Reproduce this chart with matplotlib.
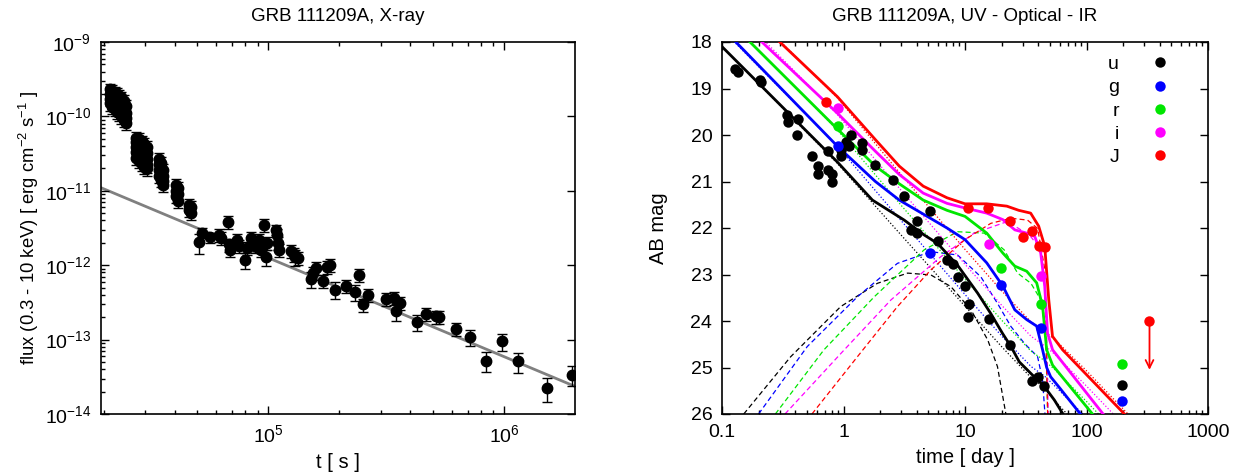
import numpy as np
import matplotlib
matplotlib.use("Agg")
import matplotlib.pyplot as plt
from matplotlib.ticker import FixedLocator, FixedFormatter, NullFormatter

plt.rcParams['font.family'] = ['Liberation Sans', 'DejaVu Sans']
plt.rcParams['mathtext.fontset'] = 'custom'
plt.rcParams['mathtext.rm'] = 'Liberation Sans'
plt.rcParams['mathtext.it'] = 'Liberation Sans:italic'
plt.rcParams['mathtext.default'] = 'regular'

# ---------------- X-ray data (left panel) ----------------
# dense early clusters (time [s], flux [erg cm^-2 s^-1])
xr_clu_t = [2.13e4, 2.13e4, 2.13e4, 2.13e4, 2.18e4, 2.18e4, 2.18e4, 2.18e4,
            2.23e4, 2.23e4, 2.23e4, 2.23e4, 2.28e4, 2.28e4, 2.28e4, 2.28e4,
            2.33e4, 2.33e4, 2.33e4, 2.33e4, 2.38e4, 2.38e4, 2.38e4, 2.38e4,
            2.43e4, 2.43e4, 2.43e4, 2.43e4, 2.48e4, 2.48e4, 2.48e4, 2.48e4,
            2.74e4, 2.74e4, 2.74e4, 2.74e4, 2.74e4, 2.82e4, 2.82e4, 2.82e4, 2.82e4, 2.82e4,
            2.90e4, 2.90e4, 2.90e4, 2.90e4, 2.90e4, 2.98e4, 2.98e4, 2.98e4, 2.98e4, 2.98e4,
            3.06e4, 3.06e4, 3.06e4, 3.06e4, 3.06e4,
            3.42e4, 3.42e4, 3.42e4, 3.42e4, 3.50e4, 3.50e4, 3.50e4, 3.50e4,
            3.56e4, 3.56e4, 3.56e4, 3.56e4,
            4.07e4, 4.07e4, 4.07e4, 4.15e4, 4.15e4, 4.15e4,
            4.62e4, 4.62e4, 4.68e4, 4.68e4]
xr_clu_f = [2.3e-10, 2.0e-10, 1.7e-10, 1.5e-10, 2.2e-10, 1.9e-10, 1.6e-10, 1.35e-10,
            2.1e-10, 1.8e-10, 1.5e-10, 1.25e-10, 2.0e-10, 1.7e-10, 1.4e-10, 1.15e-10,
            1.9e-10, 1.6e-10, 1.3e-10, 1.1e-10, 1.8e-10, 1.5e-10, 1.2e-10, 1.0e-10,
            1.6e-10, 1.3e-10, 1.05e-10, 0.9e-10, 1.4e-10, 1.1e-10, 0.95e-10, 0.82e-10,
            5.2e-11, 4.5e-11, 3.9e-11, 3.3e-11, 2.8e-11, 5.0e-11, 4.2e-11, 3.6e-11, 3.0e-11, 2.5e-11,
            4.6e-11, 3.9e-11, 3.3e-11, 2.7e-11, 2.3e-11, 4.3e-11, 3.6e-11, 3.0e-11, 2.5e-11, 2.1e-11,
            3.9e-11, 3.2e-11, 2.7e-11, 2.2e-11, 2.0e-11,
            2.7e-11, 2.3e-11, 1.9e-11, 1.6e-11, 2.4e-11, 2.0e-11, 1.7e-11, 1.4e-11,
            1.9e-11, 1.6e-11, 1.35e-11, 1.2e-11,
            1.2e-11, 1.0e-11, 8.6e-12, 1.1e-11, 9.0e-12, 7.4e-12,
            6.4e-12, 5.5e-12, 6.0e-12, 5.1e-12]
xr_clu_err = 0.2

# later, separated points
xr_t = [5.1e4, 5.25e4, 5.68e4, 6.2e4, 6.3e4, 6.77e4, 6.8e4, 6.85e4, 7.38e4, 7.5e4,
        7.95e4, 8.1e4, 8.46e4, 8.8e4, 9.1e4, 9.3e4, 9.6e4, 9.8e4, 9.9e4, 1.08e5,
        1.09e5, 1.10e5, 1.11e5, 1.25e5, 1.28e5, 1.30e5, 1.34e5, 1.51e5, 1.55e5, 1.60e5,
        1.71e5, 1.77e5, 1.83e5, 1.92e5, 2.14e5, 2.34e5, 2.43e5, 2.52e5, 2.65e5, 3.16e5,
        3.42e5, 3.49e5, 3.62e5, 4.27e5, 4.65e5, 5.13e5, 5.30e5, 6.27e5, 7.15e5, 8.35e5,
        9.8e5, 1.15e6, 1.52e6, 1.94e6]
xr_f = [2.04e-12, 2.75e-12, 2.37e-12, 2.57e-12, 2.3e-12, 3.8e-12, 1.9e-12, 1.6e-12, 2.2e-12, 1.8e-12,
        1.18e-12, 1.7e-12, 2.3e-12, 1.8e-12, 2.2e-12, 1.6e-12, 3.5e-12, 1.3e-12, 2.0e-12, 3.0e-12,
        2.57e-12, 2.0e-12, 1.6e-12, 1.55e-12, 1.4e-12, 1.3e-12, 1.25e-12, 6.5e-13, 7.9e-13, 9.1e-13,
        6.2e-13, 9.5e-13, 1.0e-12, 4.7e-13, 5.3e-13, 4.4e-13, 7.4e-13, 2.97e-13, 4.0e-13, 3.5e-13,
        3.6e-13, 2.4e-13, 3.1e-13, 1.73e-13, 2.2e-13, 2.05e-13, 2.0e-13, 1.38e-13, 1.08e-13, 5.2e-14,
        9.5e-14, 5.1e-14, 2.24e-14, 3.37e-14]
xr_rel = [0.3, 0.15, 0.15, 0.2, 0.2, 0.2, 0.2, 0.2, 0.2, 0.2,
          0.25, 0.2, 0.2, 0.2, 0.2, 0.2, 0.2, 0.25, 0.2, 0.15,
          0.2, 0.2, 0.2, 0.2, 0.2, 0.25, 0.2, 0.25, 0.2, 0.2,
          0.2, 0.2, 0.2, 0.25, 0.2, 0.25, 0.2, 0.2, 0.2, 0.2,
          0.2, 0.25, 0.2, 0.25, 0.2, 0.2, 0.2, 0.2, 0.25, 0.3,
          0.25, 0.3, 0.35, 0.3]

# power-law fit end points
fit_t = [1.95e4, 2.0e6]
fit_f = [1.10e-11, 2.35e-14]

# tick labels
xr_xticks = [1e5, 1e6]
xr_xlabels = ['$10^{5}$', '$10^{6}$']
xr_yticks = [1e-14, 1e-13, 1e-12, 1e-11, 1e-10, 1e-9]
xr_ylabels = ['$10^{-14}$', '$10^{-13}$', '$10^{-12}$', '$10^{-11}$', '$10^{-10}$', '$10^{-9}$']

# ---------------- UV/optical/IR data (right panel) ----------------
bands = ['u', 'g', 'r', 'i', 'J']
band_colors = ['#000000', '#0000ff', '#00e600', '#ff00ff', '#ff0000']

u_t = [0.128, 0.135, 0.205, 0.208, 0.342, 0.347, 0.42, 0.414, 0.547, 0.621,
       0.612, 0.74, 0.74, 0.81, 0.81, 0.948, 0.96, 1.04, 1.12, 1.16,
       1.41, 1.41, 1.83, 2.57, 3.15, 3.6, 4.04, 4.04, 5.19, 5.98,
       7.1, 7.95, 8.79, 9.93, 10.87, 10.6, 15.7, 23.4, 35.3, 39.8,
       44.6, 197]
u_m = [18.58, 18.65, 18.81, 18.87, 19.56, 19.71, 19.65, 19.99, 20.46, 20.67,
       20.83, 20.35, 20.75, 20.83, 21.02, 20.46, 20.32, 20.14, 20.24, 19.99,
       20.17, 20.32, 20.65, 20.96, 21.32, 22.05, 21.86, 22.11, 21.64, 22.29,
       22.68, 22.77, 23.06, 23.25, 23.63, 23.91, 23.96, 24.51, 25.28, 25.20,
       25.40, 25.37]
g_t = [0.893, 5.19, 19.7, 42.0, 197]
g_m = [20.23, 22.54, 23.22, 24.15, 25.73]
r_t = [0.893, 19.7, 42.0, 197]
r_m = [19.80, 22.85, 23.63, 24.92]
i_t = [0.893, 15.7, 42.0]
i_m = [19.42, 22.34, 23.04]
J_t = [0.723, 10.5, 15.4, 23.4, 30.2, 35.3, 40.5, 45.9]
J_m = [19.29, 21.58, 21.58, 21.86, 22.19, 22.07, 22.39, 22.41]
J_lim_t = 330
J_lim_m = 23.99
J_lim_end = 25.05

# total model (solid)
u_tot_t = [0.1, 0.89, 1.73, 3.16, 4.61, 5.94, 8.68, 12.7, 16.3, 20.4, 23.9, 28.0, 34.9, 45, 54.4, 63.7]
u_tot_m = [18.10, 20.58, 21.40, 21.83, 22.15, 22.33, 22.80, 23.40, 23.84, 24.27, 24.55, 24.88, 25.13, 25.41, 25.70, 25.99]
g_tot_t = [0.13, 0.89, 1.83, 2.88, 4.53, 7.11, 10, 15.1, 20.5, 25.7, 32.2, 38.9, 43.5, 47, 50.7, 58.9, 89]
g_tot_m = [18.0, 20.24, 21.0, 21.4, 21.7, 22.0, 22.25, 22.75, 23.25, 23.76, 23.97, 24.11, 24.62, 25.0, 25.2, 25.41, 26.0]
r_tot_t = [0.17, 0.89, 1.83, 2.88, 4.53, 7.11, 10, 15.1, 20.5, 25.7, 32.2, 38.9, 43.5, 47, 52.6, 112]
r_tot_m = [18.0, 19.87, 20.67, 21.05, 21.40, 21.62, 21.75, 22.11, 22.54, 22.82, 22.93, 23.18, 23.68, 24.62, 24.95, 26.0]
i_tot_t = [0.213, 0.89, 1.83, 2.88, 4.53, 7.11, 10, 15.1, 20.5, 25.7, 32.2, 37.5, 42, 45.3, 47.8, 52.6, 137]
i_tot_m = [18.0, 19.53, 20.35, 20.85, 21.25, 21.47, 21.57, 21.68, 21.82, 22.04, 22.11, 22.18, 22.54, 23.25, 24.26, 24.62, 26.0]
J_tot_t = [0.299, 0.893, 1.83, 2.88, 4.53, 7.11, 10, 15.1, 22.1, 27.7, 34.7, 40.4, 45.3, 48.9, 52.5, 63.6, 205]
J_tot_m = [18.0, 19.18, 20.1, 20.67, 21.1, 21.35, 21.48, 21.48, 21.53, 21.62, 21.68, 21.96, 22.39, 23.54, 24.33, 24.62, 26.0]

# afterglow component (dotted)
ag_t = [0.1, 0.89, 3.0, 10, 20, 35, 45, 55, 100, 300]
u_ag_m = [18.10, 20.61, 22.16, 23.68, 24.55, 25.22, 25.45, 25.72, 26.45, 27.75]
g_ag_m = [17.73, 20.24, 21.85, 23.43, 24.32, 24.98, 25.18, 25.40, 26.08, 27.38]
r_ag_m = [17.38, 19.89, 21.52, 23.10, 23.98, 24.65, 24.85, 25.05, 25.73, 27.03]
i_ag_m = [17.05, 19.56, 21.20, 22.78, 23.66, 24.33, 24.53, 24.72, 25.40, 26.70]
J_ag_m = [16.75, 19.20, 20.86, 22.46, 23.35, 24.02, 24.22, 24.40, 25.07, 26.37]

# bump component (dashed)
u_sn_t = [0.151, 0.367, 0.948, 1.90, 3.37, 5.24, 7.65, 11.2, 15.4, 18.5, 21.7]
u_sn_m = [26.0, 24.77, 23.69, 23.19, 22.97, 23.01, 23.26, 23.76, 24.41, 24.98, 26.0]
g_sn_t = [0.2, 0.503, 1.30, 2.78, 5.24, 8.68, 13.5, 18.5, 23.9, 30.8, 39.6, 43.5, 45.5]
g_sn_m = [26.0, 24.55, 23.48, 22.76, 22.51, 22.58, 23.05, 23.62, 24.12, 24.48, 24.77, 25.27, 26.0]
r_sn_t = [0.275, 0.69, 1.79, 4.61, 8.68, 14.4, 21.0, 27.1, 34.9, 42.2, 46.4, 47.9]
r_sn_m = [26.0, 24.62, 23.48, 22.47, 22.08, 22.11, 22.47, 22.97, 23.19, 23.55, 24.27, 26.0]
i_sn_t = [0.33, 0.95, 2.45, 6.3, 11.9, 22.4, 28.8, 34.9, 42.2, 46.4, 48.4]
i_sn_m = [26.0, 24.7, 23.55, 22.62, 22.11, 21.86, 22.04, 22.19, 22.47, 23.55, 26.0]
J_sn_t = [0.55, 1.3, 2.78, 5.24, 9.87, 16.3, 23.9, 32.7, 39.6, 45.0, 47.9]
J_sn_m = [26.0, 24.77, 23.69, 22.9, 22.26, 21.90, 21.79, 21.83, 22.01, 22.83, 26.0]

opt_xticks = [0.1, 1, 10, 100, 1000]
opt_xlabels = ['0.1', '1', '10', '100', '1000']
opt_yticks = [18, 19, 20, 21, 22, 23, 24, 25, 26]

obs_t = [u_t, g_t, r_t, i_t, J_t]
obs_m = [u_m, g_m, r_m, i_m, J_m]
tot_t = [u_tot_t, g_tot_t, r_tot_t, i_tot_t, J_tot_t]
tot_m = [u_tot_m, g_tot_m, r_tot_m, i_tot_m, J_tot_m]
ag_m = [u_ag_m, g_ag_m, r_ag_m, i_ag_m, J_ag_m]
sn_t = [u_sn_t, g_sn_t, r_sn_t, i_sn_t, J_sn_t]
sn_m = [u_sn_m, g_sn_m, r_sn_m, i_sn_m, J_sn_m]


def log_minors(lo_exp, hi_exp, vmin, vmax):
    # minor tick positions 2..9 x 10^e that lie inside the view
    out = []
    for e in range(lo_exp, hi_exp + 1):
        for k in range(2, 10):
            v = k * 10.0 ** e
            if vmin < v < vmax:
                out.append(v)
    return out


def style_axes(ax):
    for sp in ax.spines.values():
        sp.set_linewidth(1.2)
    ax.tick_params(which='both', direction='in', top=True, right=True, labelsize=14, width=1)
    ax.tick_params(which='major', length=6, pad=7)
    ax.tick_params(which='minor', length=3)


def plot_xray(ax):
    f = np.array(xr_clu_f)
    ax.errorbar(xr_clu_t, f, yerr=f * xr_clu_err, fmt='o', color='black', ms=7.5,
                elinewidth=1, capsize=3.5, capthick=1)
    f = np.array(xr_f)
    ax.errorbar(xr_t, f, yerr=f * np.array(xr_rel), fmt='o', color='black', ms=7.5,
                elinewidth=1, capsize=3.5, capthick=1)
    ax.plot(fit_t, fit_f, color='#808080', lw=2, zorder=1)
    ax.set_xscale('log')
    ax.set_yscale('log')
    ax.set_xlim(1.95e4, 2.0e6)
    ax.set_ylim(1e-14, 1e-9)
    style_axes(ax)
    ax.xaxis.set_major_locator(FixedLocator(xr_xticks))
    ax.xaxis.set_major_formatter(FixedFormatter(xr_xlabels))
    ax.xaxis.set_minor_locator(FixedLocator(log_minors(4, 6, 1.95e4, 2.0e6)))
    ax.xaxis.set_minor_formatter(NullFormatter())
    ax.yaxis.set_major_locator(FixedLocator(xr_yticks))
    ax.yaxis.set_major_formatter(FixedFormatter(xr_ylabels))
    ax.yaxis.set_minor_locator(FixedLocator(log_minors(-14, -10, 1e-14, 1e-9)))
    ax.yaxis.set_minor_formatter(NullFormatter())
    ax.tick_params(which='minor', axis='y', right=False)
    ax.set_title('GRB 111209A, X-ray', fontsize=13.5, pad=15)
    ax.set_xlabel('t [ s ]', fontsize=14.5, labelpad=5)
    ax.set_ylabel('flux (0.3 - 10 keV) [ erg cm$^{-2}$ s$^{-1}$ ]', fontsize=13.3, labelpad=3)


def plot_optical(ax):
    for k in range(len(bands)):
        c = band_colors[k]
        ax.plot(ag_t, ag_m[k], color=c, lw=0.9, dashes=(1, 1.6), zorder=2)
        ax.plot(sn_t[k], sn_m[k], color=c, lw=0.9, dashes=(4, 2.5), zorder=2)
    for k in range(len(bands)):
        ax.plot(tot_t[k], tot_m[k], color=band_colors[k], lw=2, zorder=3)
    for k in range(len(bands)):
        ax.plot(obs_t[k], obs_m[k], 'o', color=band_colors[k], ms=7.5, mec='none',
                label=bands[k], zorder=4)
    ax.plot([J_lim_t], [J_lim_m], 'o', color='#ff0000', ms=7.5, mec='none', zorder=4)
    ax.annotate('', xy=(J_lim_t, J_lim_end), xytext=(J_lim_t, J_lim_m),
                arrowprops=dict(arrowstyle='->', color='#ff0000', lw=1.3,
                                mutation_scale=14, shrinkA=0, shrinkB=0))
    ax.set_xscale('log')
    ax.set_xlim(0.1, 1000)
    ax.set_ylim(26, 18)
    style_axes(ax)
    ax.xaxis.set_major_locator(FixedLocator(opt_xticks))
    ax.xaxis.set_major_formatter(FixedFormatter(opt_xlabels))
    ax.xaxis.set_minor_locator(FixedLocator(log_minors(-1, 2, 0.1, 1000)))
    ax.xaxis.set_minor_formatter(NullFormatter())
    ax.yaxis.set_major_locator(FixedLocator(opt_yticks))
    ax.set_title('GRB 111209A, UV - Optical - IR', fontsize=13.5, pad=15)
    ax.set_xlabel('time [ day ]', fontsize=14.5, labelpad=5)
    ax.set_ylabel('AB mag', fontsize=14.5, labelpad=16)
    ax.legend(loc='upper right', frameon=False, markerfirst=False, fontsize=14,
              handlelength=0.8, handletextpad=1.7, labelspacing=0.29,
              borderaxespad=0.3, bbox_to_anchor=(0.945, 1.0))


fig = plt.figure(figsize=(12.43, 4.76), dpi=100)
ax1 = fig.add_axes([101 / 1243, 62 / 476, 474 / 1243, 372 / 476])
ax2 = fig.add_axes([722 / 1243, 62 / 476, 486 / 1243, 372 / 476])
plot_xray(ax1)
plot_optical(ax2)
fig.savefig('out.png', dpi=100)
